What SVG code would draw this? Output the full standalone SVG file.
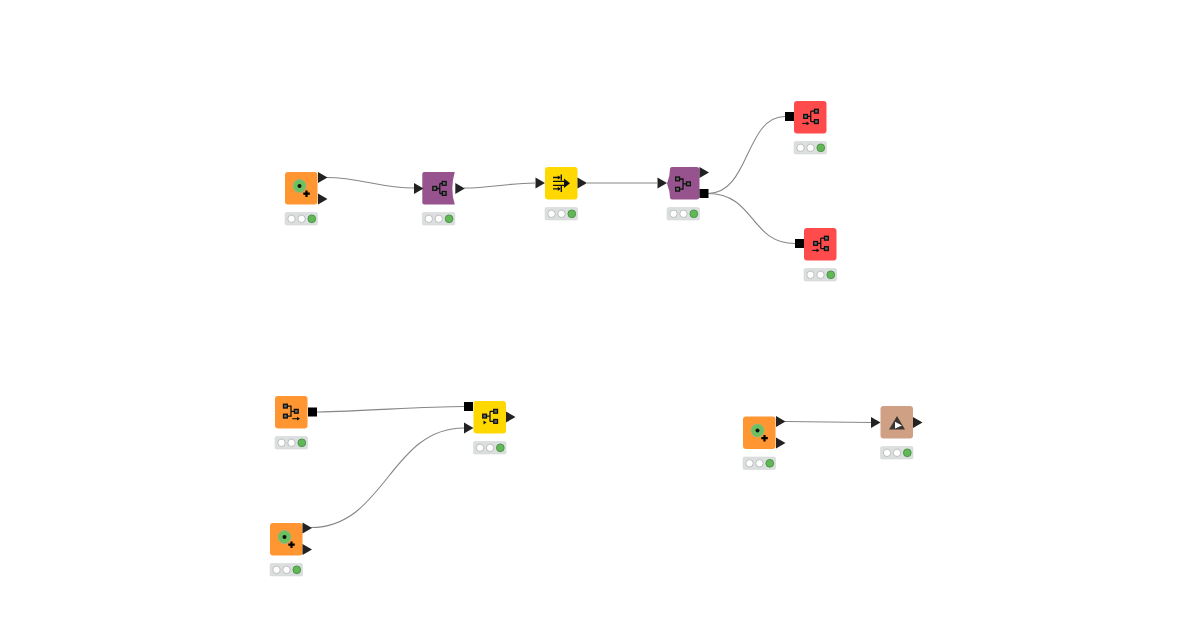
<svg xmlns="http://www.w3.org/2000/svg" width="1200" height="630" viewBox="0 0 1200 630">
<style>
.c{fill:none;stroke:#868686;stroke-width:1.1}
.o{fill:#ff9632}.y{fill:#ffd800}.p{fill:#97538e}.r{fill:#ff4b4b}.t{fill:#cfa084}
.g{fill:none;stroke:#111;stroke-width:1.3}
.b{fill:#666;stroke:#111;stroke-width:1.3}
.k{fill:#111}
.tri{fill:#222}
</style>
<defs>
<path id="ti" d="M0-5.500L9.500 0L0 5.500Z" class="tri"/>
<rect id="sq" x="0" y="-4.500" width="9" height="9" fill="#000"/>
<g id="st">
<rect width="32.500" height="12.500" y=".5" rx="1.500" fill="#dcdfdf" stroke="#d0d3d3" stroke-width=".5"/>
<circle cx="6.500" cy="6.800" r="3.700" fill="#fff" stroke="#a8a8a8" stroke-width=".7"/>
<circle cx="16.500" cy="6.800" r="3.700" fill="#fff" stroke="#a8a8a8" stroke-width=".7"/>
<circle cx="26.800" cy="6.800" r="3.900" fill="#62b857" stroke="#3f8a3a" stroke-width=".8"/>
</g>
<g id="db">
<circle cx="14.500" cy="14" r="6.500" fill="#6cc05f" stroke="#8fb78a" stroke-width=".8"/>
<circle cx="14.500" cy="14" r="2" class="k"/>
<path d="M21.500 18.500v6.500M18.300 21.700h6.500" stroke="#000" stroke-width="2.200" fill="none"/>
</g>
<g id="tree">
<rect x="10.500" y="15" width="3.800" height="3.800" class="b"/>
<rect x="20" y="10" width="3.800" height="3.800" class="b"/>
<rect x="20" y="20" width="3.800" height="3.800" class="b"/>
<path d="M14.300 17h3.200M17.500 12v10M17.500 12h2.500M17.500 22h2.500" class="g"/>
</g>
<g id="tree2">
<rect x="8.700" y="10" width="3.800" height="3.800" class="b"/>
<rect x="8.700" y="20.300" width="3.800" height="3.800" class="b"/>
<rect x="19.500" y="14.900" width="3.800" height="3.800" class="b"/>
<path d="M12.500 12h3.500v10.200h-3.500M16 16.800h3.500" class="g"/>
</g>
<g id="treeR">
<rect x="9.700" y="13.500" width="3.800" height="3.800" class="b"/>
<rect x="20.500" y="8.300" width="3.800" height="3.800" class="b"/>
<rect x="20.500" y="18.700" width="3.800" height="3.800" class="b"/>
<path d="M13.500 15.400h3.200M16.700 10.200v10.400M16.700 10.200h3.800M16.700 20.600h3.800" class="g"/>
<path d="M8.300 22.400h5" stroke="#111" stroke-width="1.100" fill="none"/>
<path d="M12.500 20.500l3 1.900l-3 1.900Z" class="k"/>
</g>
</defs>
<g id="connectors">
<path class="c" d="M327 177.500C360 177.500 380 188 414 188"/>
<path class="c" d="M464 188C490 188 510 183 535 183"/>
<path class="c" d="M587 183H657"/>
<path class="c" d="M708 193.500C750 193.500 745 116.500 785 116.500"/>
<path class="c" d="M708 193.500C755 193.500 750 243.500 795 243.500"/>
<path class="c" d="M317 412C370 411 420 406.500 464 406.500"/>
<path class="c" d="M311 527.500C385 527.500 390 428 464 428"/>
<path class="c" d="M785 421.500L871 422.500"/>
</g>
<g id="node-a" transform="translate(285 172)"><rect width="32.500" height="32.500" rx="3" class="o"/><use href="#db"/><use href="#ti" x="33" y="5.500"/><use href="#ti" x="33" y="27"/><use href="#st" y="40"/></g>
<g id="node-b" transform="translate(422.300 172)"><path d="M2 0H32.500Q30 8 30 16.500Q30 25 32.500 32.500H2Q0 32.500 0 30.500V2Q0 0 2 0Z" class="p"/><use href="#tree" y="-0.500"/><use href="#ti" x="-8.300" y="16.500"/><use href="#ti" x="33" y="16.500"/><use href="#st" y="40"/></g>
<g id="node-c" transform="translate(545 167)"><rect width="32.500" height="32.500" rx="3" class="y"/><path d="M8 10.500h7M8 21.800h7M8 14.300h13M8 18.300h13" stroke="#111" stroke-width="1.300" fill="none"/><path d="M16.300 7.500v6M16.300 19v6" stroke="#111" stroke-width="1.400" fill="none"/><path d="M12.800 8.400l3 2.100l-3 2.100ZM12.800 19.700l3 2.100l-3 2.100Z" class="k"/><path d="M19 11.500L25 16.300L19 21Z" class="k"/><use href="#ti" x="-9.500" y="16"/><use href="#ti" x="32.500" y="16"/><use href="#st" y="40"/></g>
<g id="node-d" transform="translate(667 167)"><path d="M5 0H29.500Q32.500 0 32.500 3V29.500Q32.500 32.500 29.500 32.500H5Q3 32.500 3 30.500Q3 24 0 16.500Q3 9 3 2Q3 0 5 0Z" class="p"/><use href="#tree2"/><use href="#ti" x="-9.500" y="16"/><use href="#ti" x="32.500" y="5.500"/><use href="#sq" x="32.500" y="26.500"/><use href="#st" y="40"/></g>
<g id="node-e" transform="translate(794 101)"><rect width="32.500" height="32.500" rx="3" class="r"/><use href="#treeR"/><use href="#sq" x="-9" y="15.500"/><use href="#st" y="40"/></g>
<g id="node-f" transform="translate(804 228)"><rect width="32.500" height="32.500" rx="3" class="r"/><use href="#treeR"/><use href="#sq" x="-9" y="15.500"/><use href="#st" y="40"/></g>
<g id="node-g" transform="translate(275 396)"><rect width="32.500" height="32.500" rx="3" class="o"/><rect x="8.500" y="8.200" width="3.800" height="3.800" class="b"/><rect x="8.500" y="18.200" width="3.800" height="3.800" class="b"/><rect x="19.400" y="13.400" width="3.800" height="3.800" class="b"/><path d="M12.300 10.100h3.700v10h-3.700M16 15.300h3.400" class="g"/><path d="M17.300 22.700h6" stroke="#111" stroke-width="1.100" fill="none"/><path d="M22 20.800l3 1.900l-3 1.900Z" class="k"/><use href="#sq" x="33" y="16"/><use href="#st" y="40"/></g>
<g id="node-h" transform="translate(270 523)"><rect width="32.500" height="32.500" rx="3" class="o"/><use href="#db"/><use href="#ti" x="32.500" y="5"/><use href="#ti" x="32.500" y="26.500"/><use href="#st" y="40"/></g>
<g id="node-i" transform="translate(473.500 401)"><rect width="32.500" height="32.500" rx="3" class="y"/><rect x="9.200" y="13.200" width="3.800" height="3.800" class="b"/><rect x="20.200" y="8.400" width="3.800" height="3.800" class="b"/><rect x="20.200" y="18.500" width="3.800" height="3.800" class="b"/><path d="M13 15.100h3.500M16.500 10.300v10.100M16.500 10.300h3.700M16.500 20.400h3.700" class="g"/><path d="M10 19.600l3 2l-3 2Z" class="k"/><use href="#sq" x="-9.500" y="5.500"/><use href="#ti" x="-9.500" y="27"/><use href="#ti" x="32.500" y="16"/><use href="#st" y="40"/></g>
<g id="node-j" transform="translate(743 416.500)"><rect width="32.500" height="32.500" rx="3" class="o"/><use href="#db"/><use href="#ti" x="33" y="5"/><use href="#ti" x="33" y="26.500"/><use href="#st" y="40"/></g>
<g id="node-k" transform="translate(880.500 406)"><rect width="32.500" height="32.500" rx="3" class="t"/><path d="M16.500 10L24.500 23.500H8.500Z" fill="#3a3632"/><path d="M14.500 15.800L21.500 19.500L14.500 22.500Z" fill="#fff"/><use href="#ti" x="-9.500" y="16.500"/><use href="#ti" x="32.500" y="16.500"/><use href="#st" y="40"/></g>
</svg>
